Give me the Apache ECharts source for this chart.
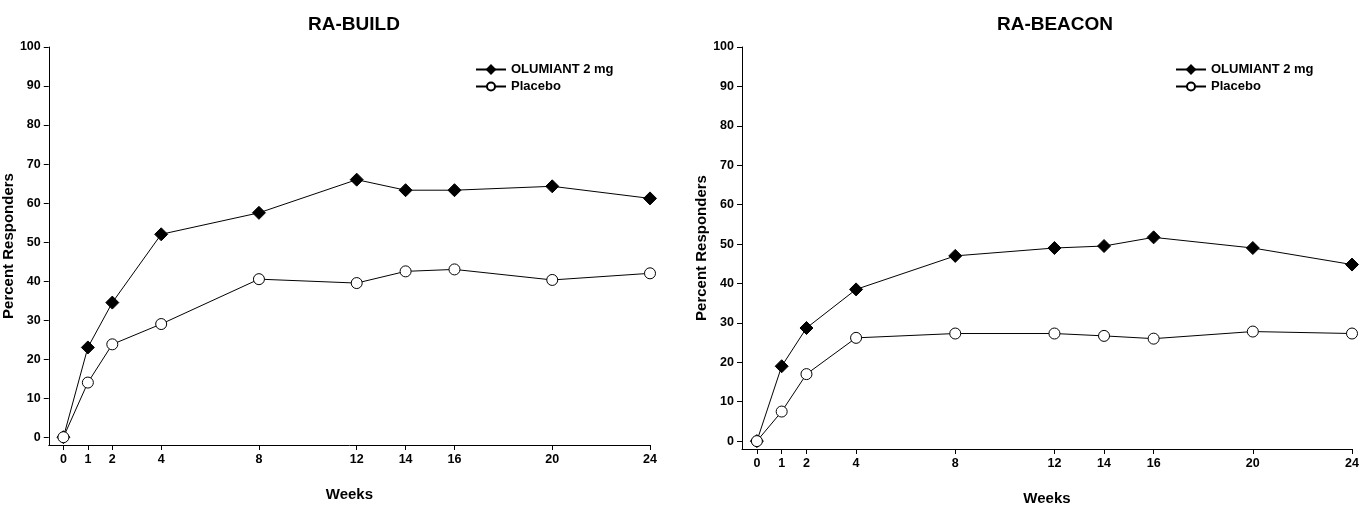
<!DOCTYPE html>
<html><head><meta charset="utf-8">
<script src="https://cdn.jsdelivr.net/npm/echarts@6/dist/echarts.min.js"></script>
<style>body{margin:0;background:#fff}#c{width:1362px;height:514px}</style>
</head><body><div id="c"></div>
<script>
var weeks = [0, 1, 2, 4, 8, 12, 14, 16, 20, 24];
var yTicks = [0, 10, 20, 30, 40, 50, 60, 70, 80, 90, 100];
var buildDrug = [0, 23, 34.5, 52, 57.5, 66, 63.3, 63.3, 64.3, 61.2];
var buildPbo = [0, 14, 23.8, 29, 40.5, 39.5, 42.5, 43, 40.3, 42];
var beaconDrug = [0, 19, 28.7, 38.5, 47, 49, 49.5, 51.7, 49, 44.8];
var beaconPbo = [0, 7.5, 17, 26.2, 27.3, 27.3, 26.7, 26, 27.8, 27.3];

function pairs(vals) {
  return weeks.map(function (w, i) { return [w, vals[i]]; });
}
var font = 'Arial, Liberation Sans, sans-serif';
var grids = [
  {left: 48, top: 47, width: 602, height: 398},
  {left: 742, top: 47, width: 610, height: 402}
];
function xAxis(i) {
  return {
    type: 'value', gridIndex: i, min: -0.6, max: 24, interval: 1,
    name: 'Weeks', nameLocation: 'middle', nameGap: 42,
    nameTextStyle: {fontWeight: 'bold', fontSize: 15, color: '#000', fontFamily: font},
    axisLine: {onZero: false, lineStyle: {color: '#000'}},
    axisTick: {customValues: weeks, length: 5, lineStyle: {color: '#000'}},
    axisLabel: {customValues: weeks, fontWeight: 'bold', fontSize: 12.5, color: '#000', fontFamily: font},
    splitLine: {show: false}
  };
}
function yAxis(i) {
  return {
    type: 'value', gridIndex: i, min: -2, max: 100,
    name: 'Percent Responders', nameLocation: 'middle', nameGap: 20,
    nameTextStyle: {fontWeight: 'bold', fontSize: 15, color: '#000', fontFamily: font},
    axisLine: {show: true, onZero: false, lineStyle: {color: '#000'}},
    axisTick: {show: true, customValues: yTicks, length: 5, lineStyle: {color: '#000'}},
    axisLabel: {customValues: yTicks, fontWeight: 'bold', fontSize: 12.5, color: '#000', fontFamily: font},
    splitLine: {show: false}
  };
}
function line(name, vals, i, filled) {
  return {
    name: name, type: 'line', xAxisIndex: i, yAxisIndex: i, data: pairs(vals),
    symbol: filled ? 'diamond' : 'circle', symbolSize: filled ? 13 : 11,
    lineStyle: {color: '#000', width: 1},
    itemStyle: {color: filled ? '#000' : '#fff', borderColor: '#000', borderWidth: 1},
    animation: false
  };
}
var chart = echarts.init(document.getElementById('c'));
chart.setOption({
  animation: false,
  title: [
    {text: 'RA-BUILD', left: 349, top: 10, textAlign: 'center', textStyle: {fontSize: 19, fontWeight: 'bold', color: '#000', fontFamily: font}},
    {text: 'RA-BEACON', left: 1050, top: 10, textAlign: 'center', textStyle: {fontSize: 19, fontWeight: 'bold', color: '#000', fontFamily: font}}
  ],
  grid: grids,
  xAxis: [xAxis(0), xAxis(1)],
  yAxis: [yAxis(0), yAxis(1)],
  legend: [
    {left: 470, top: 58, orient: 'vertical', itemGap: 4, itemWidth: 30, itemHeight: 10,
     data: ['OLUMIANT 2 mg', 'Placebo'], textStyle: {fontWeight: 'bold', fontSize: 13, fontFamily: font, color: '#000'}},
    {left: 1170, top: 58, orient: 'vertical', itemGap: 4, itemWidth: 30, itemHeight: 10,
     data: ['OLUMIANT 2 mg ', 'Placebo '], textStyle: {fontWeight: 'bold', fontSize: 13, fontFamily: font, color: '#000'}}
  ],
  series: [
    line('OLUMIANT 2 mg', buildDrug, 0, true),
    line('Placebo', buildPbo, 0, false),
    line('OLUMIANT 2 mg ', beaconDrug, 1, true),
    line('Placebo ', beaconPbo, 1, false)
  ]
});
</script></body></html>
